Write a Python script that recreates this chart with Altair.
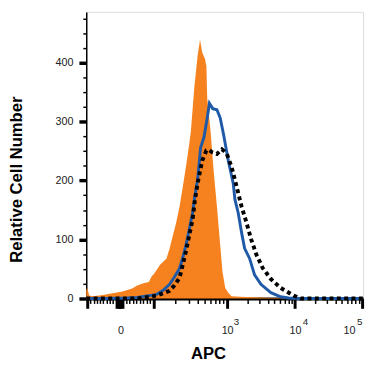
import math
import altair as alt
import pandas as pd

# ---- data (x in display channel units 0..1000) ----
ORANGE_CH = [0, 3.5, 10.6, 24.7, 60, 95, 131, 166, 184, 207, 226, 237, 244, 266, 290, 301, 313, 325, 337,
             349, 360, 372, 378, 390, 402, 411, 419, 429, 434, 437, 449, 460, 472, 484, 492, 502, 513, 525,
             555, 608, 678, 749, 1000]
ORANGE_N = [15, 18, 5, 4, 6, 9, 12, 17, 22, 26, 28, 38, 41, 57, 68, 85, 107, 129, 156,
            190, 223, 262, 284, 356, 411, 439, 417, 406, 394, 339, 284, 217, 156, 90, 46, 18, 10, 4,
            3, 2, 1, 0.5, 0]

BLUE_CH = [0, 78, 148, 184, 230, 254, 278, 301, 318, 337, 349, 360, 372, 384, 392, 402, 408, 413, 425,
           437, 445, 457, 472, 484, 496, 513, 531, 537, 549, 561, 572, 590, 608, 631, 667, 702, 731, 767, 1000]
BLUE_N = [0, 0, 1, 2, 5, 7, 14, 24, 36, 51, 70, 90, 117, 145, 173, 201, 230, 256, 273,
          306, 331, 322, 320, 306, 278, 234, 195, 168, 145, 112, 85, 68, 40, 24, 10, 3, 1, 0, 0]

DOT_CH = [0, 184, 230, 254, 278, 301, 318, 337, 349, 360, 372, 384, 392, 402, 419, 434, 443, 455, 472,
          490, 498, 508, 525, 543, 561, 578, 596, 614, 637, 667, 702, 724, 749, 774, 1000]
DOT_N = [0, 0, 3, 5, 9, 13, 22, 35, 58, 80, 107, 134, 165, 195, 234, 251, 252, 248, 245,
         253, 250, 245, 223, 190, 156, 130, 100, 75, 52, 33, 18, 12, 5, 0, 0]

# ---- axis calibration (biexponential display) ----
ANCHOR_NEG100 = 3.5
ANCHOR_ZERO = 120.1
DECADE_EXP = [2, 3, 4, 5]
DECADE_POS = [243.8, 507.1, 754.4, 996.5]
PX_TO_CH = 1000 / 283


def pos(v):
    if v <= 0:
        return ANCHOR_ZERO + v / 100 * (ANCHOR_ZERO - ANCHOR_NEG100)
    if v <= 100:
        return ANCHOR_ZERO + v / 100 * (DECADE_POS[0] - ANCHOR_ZERO)
    lv = math.log10(v)
    d = min(int(math.floor(lv)), 4)
    i = d - 2
    return DECADE_POS[i] + (lv - d) * (DECADE_POS[i + 1] - DECADE_POS[i])


X_MAJOR_VALUES = [-100, -8, -4, 0, 4, 8, 100, 1000, 10000, 100000]
X_MINOR_VALUES = ([-v for v in range(10, 100, 10)] + list(range(10, 100, 10)) +
                  list(range(200, 1000, 100)) + list(range(2000, 10000, 1000)) +
                  list(range(20000, 100000, 10000)))
LABEL_VALUES = [0, 1000, 10000, 100000]
LABEL_TEXT = ["0", "10", "10", "10"]
LABEL_SHIFT_PX = [1, 0.5, 0, -13.5]
SUP_VALUES = [1000, 10000, 100000]
SUP_TEXT = ["3", "4", "5"]
SUP_SHIFT_PX = [9.5, 10, -3]

Y_MAJOR = [0, 100, 200, 300, 400]
Y_MINOR = [v for v in range(25, 500, 25) if v % 100 != 0]

x_major_pos = [round(pos(v), 2) for v in X_MAJOR_VALUES]
x_minor_pos = [round(pos(v), 2) for v in X_MINOR_VALUES]
label_pos = [round(pos(v) + s * PX_TO_CH, 2) for v, s in zip(LABEL_VALUES, LABEL_SHIFT_PX)]
sup_pos = [round(pos(v) + s * PX_TO_CH, 2) for v, s in zip(SUP_VALUES, SUP_SHIFT_PX)]


def label_expr(positions, texts):
    expr = "''"
    for p, t in reversed(list(zip(positions, texts))):
        expr = f"abs(datum.value - {p}) < 0.05 ? '{t}' : ({expr})"
    return expr


df_o = pd.DataFrame({"ch": ORANGE_CH, "n": ORANGE_N})
df_b = pd.DataFrame({"ch": BLUE_CH, "n": BLUE_N})
df_d = pd.DataFrame({"ch": DOT_CH, "n": DOT_N})

xs = alt.Scale(domain=[0, 1000], nice=False, zero=False)
ys = alt.Scale(domain=[0, 486], nice=False, zero=False)
FONT = "Liberation Sans"

area = alt.Chart(df_o).mark_area(color="#F5821F", opacity=1, interpolate="linear").encode(
    x=alt.X("ch:Q", scale=xs, axis=alt.Axis(
        values=x_major_pos, labels=False, title=None, orient="bottom", grid=False,
        tickSize=10, tickWidth=3, tickColor="black", domainColor="black", domainWidth=3,
        labelFlush=False)),
    y=alt.Y("n:Q", scale=ys, axis=alt.Axis(
        values=Y_MAJOR, orient="left", grid=False, tickSize=7.5, tickWidth=3.5, tickColor="black",
        domainColor="black", domainWidth=1.5, labelFontSize=11, labelPadding=6, labelColor="#222222",
        labelFont=FONT, title="Relative Cell Number", titleFont=FONT, titleFontSize=17,
        titleFontWeight="bold", titleColor="black", titleX=-66, titleY=171, titleAngle=270,
        titleBaseline="alphabetic", titleAlign="center")),
)

blue = alt.Chart(df_b).mark_line(color="#1F5AA8", strokeWidth=3).encode(
    x=alt.X("ch:Q", scale=xs, axis=alt.Axis(
        values=x_minor_pos, labels=False, title=None, orient="bottom", grid=False, domain=False,
        tickSize=5, tickWidth=1.5, tickColor="black", labelFlush=False)),
    y=alt.Y("n:Q", scale=ys, axis=alt.Axis(
        values=Y_MINOR, labels=False, title=None, orient="left", grid=False, domain=False,
        tickSize=3.5, tickWidth=1.5, tickColor="black")),
)

dotted = alt.Chart(df_d).mark_line(color="black", strokeWidth=4, strokeDash=[4, 3.5]).encode(
    x=alt.X("ch:Q", scale=xs, axis=alt.Axis(
        values=label_pos, labelExpr=label_expr(label_pos, LABEL_TEXT), ticks=False, domain=False,
        grid=False, orient="bottom", labelFontSize=11, labelFont=FONT, labelColor="#222222",
        labelBaseline="alphabetic", labelPadding=36, labelOverlap=False, labelFlush=False,
        title="APC", titleFont=FONT, titleFontSize=17, titleFontWeight="bold", titleColor="black",
        titleX=124.5, titleY=61.5, titleBaseline="alphabetic", titleAlign="center")),
    y=alt.Y("n:Q", scale=ys, axis=None),
)

sup = alt.Chart(df_d).mark_line(opacity=0).encode(
    x=alt.X("ch:Q", scale=xs, axis=alt.Axis(
        values=sup_pos, labelExpr=label_expr(sup_pos, SUP_TEXT), ticks=False, domain=False,
        grid=False, orient="bottom", labelFontSize=10, labelFont=FONT, labelColor="#222222",
        labelBaseline="alphabetic", labelPadding=27, labelOverlap=False, labelFlush=False,
        title=None)),
    y=alt.Y("n:Q", scale=ys, axis=None),
)

chart = alt.layer(area, blue, dotted, sup).resolve_axis(x="independent", y="independent").properties(
    width=283, height=293,
    autosize=alt.AutoSizeParams(type="none"),
    padding={"left": 80, "top": 0, "right": 4, "bottom": 66},
).configure_view(stroke="#808080", strokeWidth=1).configure(background="white")

chart.save("out.html", embed_options={"renderer": "svg", "actions": False})
